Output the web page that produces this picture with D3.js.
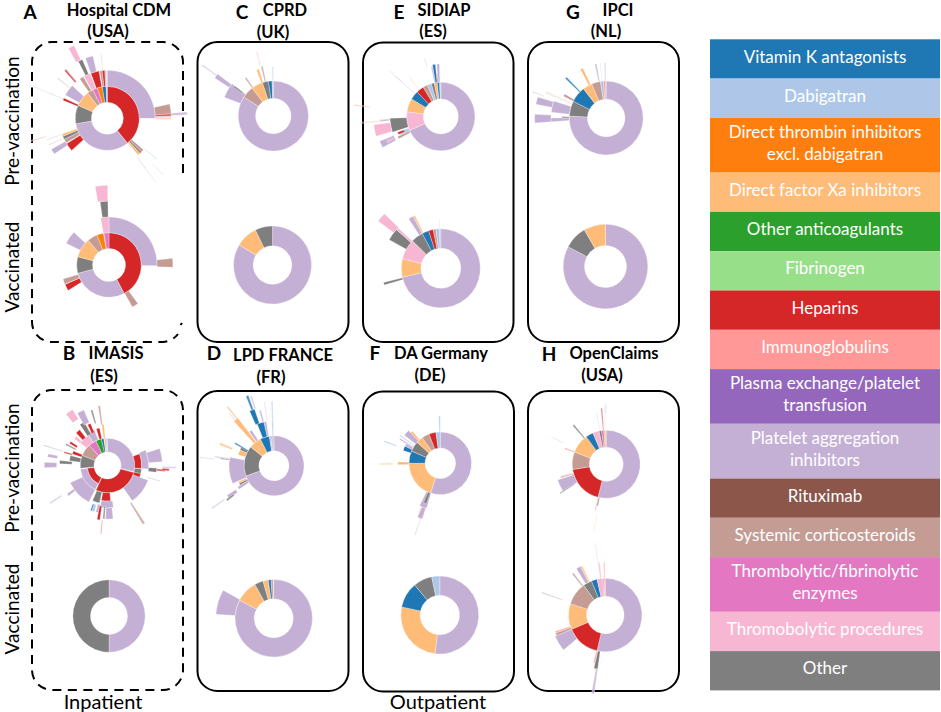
<!DOCTYPE html>
<html>
<head>
<meta charset="utf-8">
<script src="https://cdn.jsdelivr.net/npm/d3@7"></script>
<style>
  html, body { margin: 0; padding: 0; background: #fff; }
  text { font-family: Lato, "Open Sans", sans-serif; }
</style>
</head>
<body>
<svg width="941" height="712"></svg>
<script>
var categories = ["Vitamin K antagonists", "Dabigatran", "Direct thrombin inhibitors|excl. dabigatran",
  "Direct factor Xa inhibitors", "Other anticoagulants", "Fibrinogen", "Heparins", "Immunoglobulins",
  "Plasma exchange/platelet|transfusion", "Platelet aggregation|inhibitors", "Rituximab",
  "Systemic corticosteroids", "Thrombolytic/fibrinolytic|enzymes", "Thromobolytic procedures", "Other"];
var codes = ["V", "D", "T", "X", "A", "F", "H", "I", "P", "L", "R", "S", "E", "O", "G"];
var colors = ["#1f77b4", "#aec7e8", "#ff7f0e", "#ffbb78", "#2ca02c", "#98df8a", "#d62728", "#ff9896",
  "#9467bd", "#c5b0d5", "#8c564b", "#c49c94", "#e377c2", "#f7b6d2", "#7f7f7f"];

// rows: treatment, start deg, end deg (clockwise from 12 o'clock), ring, ring span
var hospitalPre = [["H",0,141,0],["L",141,260,0],["G",260,294,0],["X",294,322,0],["S",322,333,0],["E",333,342,0],["T",342,351,0],["V",351,358,0],["D",358,360,0],
  ["L",0,90,1],["S",131,134.5,1],["G",134.5,137,1],["X",137,140,1],["H",228,238,1],["S",239,244,1],["G",244,248,1],["X",248,251,1],["L",299,313,1],["H",292,295,1],["S",325,330,1],["O",331,339,1],["H",340,350,1],["S",351,354,1],["H",354,357,1],["L",357,359,1],
  ["S",77,86,2],["H",86,88,2],["L",88,89.5,2],["X",89.5,91,2],["L",236,241,2],["L",250,251,2],["I",245,246,2],["L",293,294,2],["S",308.5,309.5,2],["H",318,320,2],["L",319.5,320.5,2],["G",333,337,2],["L",340,347,2],["L",354,355,2],["D",129,130,2],["L",142,143,2],
  ["L",85.5,87.5,3],["O",331,335.5,3],["L",135,135.7,3],["L",142.5,143.2,3],["L",293,293.8,3],["I",253,254,3]];
var hospitalVac = [["H",0,152,0],["L",152,255,0],["G",255,285,0],["X",285,320,0],["S",320,338,0],["T",338,350,0],["E",351,360,0],
  ["L",0,91,1],["S",143,151,1],["H",238,246,1],["S",246.5,253,1],["L",297,313,1],["O",350,360,1],
  ["S",84,92,2],["G",352,359,2],["O",350,359,3]];

var imasisPre = [["L",0,103,0],["H",105,205,0],["H",207,262,0,.5],["L",207,262,0.5,.5],["G",264,292,0],["S",292,318,0],["E",318,335,0],["A",335,347,0],["V",347,352,0],["X",353,357,0],["D",357,360,0],
  ["H",70,95,1,.5],["L",68,95,1.5,.5],["G",96,104,1,.5],["H",104,112,1,.5],["L",110,145,1,1.15],["H",175,190,1,.6],["L",172,190,1.6,.5],["G",192,203,1,.8],["L",207,245,1,1],["G",277,285,1,.8],["H",288,293,1,.7],["O",310,328,1,.6],["L",328,340,1,.8],["H",343,348,1,.8],["X",352,355,1,1],
  ["L",72,86,2,1],["G",93,98,2,.6],["H",94,96,2.6,.6],["G",106,107,2,1],["L",174,182,2.1,.8],["L",191,194,1.9,.6],["D",196,199,2,.5],["V",199,201,2,.5],["H",188,191,2,1],["G",183,185,2,.9],["L",232,235,2,.6],["G",272,276,1.6,.9],["H",286,288,1.7,.6],["G",296,298,1.6,.8],["H",300,303,1.6,.6],["O",309,313,1.6,.5],["H",316,322,1.6,.7],["G",326,332,1.6,1],["H",334,338,1.6,.7],["L",330,337,2.4,1],
  ["L",91,92.5,3,1],["H",93,95,3,.5],["H",185,186,3,1],["S",147,149,2.2,1.8],["L",236,237.5,3,1],["L",268,273,2.7,.9],["L",278,281,2.7,.7],["G",287,288,2.4,1.5],["O",321,328,3,.8],["G",343,345,2.2,1],["S",351,353,2,1.4]];
var imasisVac = [["L",0,180,0],["G",180,360,0]];

var cprdPre = [["L",0,303,0],["S",303,323,0],["X",323,342,0],["G",342,352,0],["V",352,358,0],["L",358,360,0],
  ["L",291,308,1],["G",306,308,1.2,.6],["S",323,325,1,.7],["X",340,343,1,.8],["S",346,348,1,.9],["D",358.5,360,1,.8],
  ["L",303,307,2],["L",305,306.2,3],["I",345,346,2,.8]];
var cprdVac = [["L",0,301,0],["X",301,334,0],["G",334,360,0]];

var sidiapPre = [["L",0,246,0],["O",246,278,0],["X",278,301,0],["V",301,316,0],["H",316,329,0],["S",329,337,0],["D",337,344,0],["G",344,349,0],["X",349,354,0],["V",354,358,0],["D",358,360,0],
  ["D",245,250,1,.6],["S",242,245,1,.8],["H",247,250,1.3,.4],["G",252,268,1],["L",311,312,1,1.6],["V",311.5,312,2.1,1],["L",349,351,1,1],["V",351,354,1,1.1],["H",354,355.5,1,.5],["L",355.5,358.5,1,1.1],["X",321,322,1,1],
  ["O",253,263,2],["L",242,248,2,.9],["O",244,246,2.1,.4],["G",265.5,267,2,.6],["L",344,345,2,.6],["I",265,266,2.4,1.4],["I",277,278,3.2,1]];
var sidiapVac = [["L",0,257,0],["X",257,284,0],["O",284,314,0],["G",314,332,0],["V",332,342,0],["H",342,349,0],["S",349,353,0],["D",353,358,0],["L",358,360,0],
  ["G",253.5,256,1],["G",299,311,1],["O",311,313.5,1],["L",327,332,1],["X",332,334,1],["D",358,359,1,.5],
  ["O",307,314,2]];

var ipciPre = [["L",0,273,0],["G",273,297,0],["V",297,322,0],["X",322,337,0],["S",337,351,0],["D",351,356,0],["I",356,359,0],
  ["L",276,288,1],["L",266,270,1],["G",270,272,1,.4],["V",314,316,1,1.1],["D",292,293,1,1.6],["X",293,294,1,1.6],["S",297,300,1,.6],["X",332,335,1,1],["L",348,350,1,1],["D",353.5,354.5,1,1],["L",358,359.5,1,1],
  ["L",281,287,2,.9],["L",266,273,2,.9],["L",289,290,2.6,.7]];
var ipciVac = [["L",0,298,0],["G",298,330,0],["X",330,360,0]];

var lpdPre = [["L",0,250,0],["G",250,309,0],["X",309,333,0],["V",333,351,0],["L",351,354,0],["D",354,358,0],["S",358,360,0],
  ["L",247,281,1],["X",243,246,1,.6],["G",240,243,1,.6],["L",236,240,1,.8],["G",295,300,1,.5],["X",287,295,1,.5],["V",299,301,1,1],["X",318,323,1,2],["L",324,328,1,.8],["V",338,347,1],["L",347,350,1,1],["D",357,359,1,1],
  ["L",278,279.5,2,1],["G",277,278.5,2,.6],["V",336,341,2],["L",345,347,2,.8],["L",234,238,2,.7],["G",233,235,2.3,.6],["D",293,294,2,.9],["X",321,322.5,3,1],["V",338,340,3],["L",341,342.5,3,.9],["L",351,352,2,1.3],["D",357.5,359,2,1.3],["X",291,293,2,.9],["L",235,236.3,3,1],["L",319,320,3,.6],["L",276,277,3,1]];
var lpdVac = [["L",0,298,0],["X",298,331,0],["G",331,344,0],["X",344,352,0],["V",352,356,0],["S",356,359,0],["L",274,299,1]];

var daPre = [["L",0,198,0],["X",198,270,0],["V",270,293,0],["G",293,312,0],["X",312,325,0],["S",325,339,0],["H",339,352,0],["D",352,360,0],
  ["L",197,206,1],["G",199,203,1,.7],["X",268,272,1,.7],["V",289,296,1,.5],["L",296,300,1,.5],["L",308,316,1,.9],["X",316,319,1,.7],["D",358,360,1],["V",304,305,1,1.1],["L",300,302,1,1],
  ["L",198,203,2,.7],["X",268.5,270,2,.8],["L",199,200,2.7,1.1],["V",291,292,2,.8],["I",203,204,2,.4]];
var daVac = [["L",0,187,0],["X",187,282,0],["V",282,320,0],["G",320,348,0],["D",348,360,0]];

var claimsPre = [["L",0,194,0],["H",194,261,0],["S",261,291,0],["X",291,324,0],["V",324,337,0],["O",337,348,0],["G",348,352,0],["E",352,356,0],["X",356,359,0],
  ["L",238,252,1],["S",253,255,1,.8],["O",255,256,1,.8],["I",290,292,1,.6],["G",191,193,1,.5],["H",193,194,1,.8],["G",319,321,1,1],["H",354.5,356,1,1.3],["D",358,359,1,1.4],["L",349,350,1,1],
  ["X",190,190.8,2,1],["L",359,360,2,.6],["G",237,238.5,1.2,1],["I",296,297,1.8,.8]];
var claimsVac = [["L",0,193,0],["H",193,247,0],["X",247,288,0],["S",288,324,0],["G",324,338,0],["V",338,347,0],["O",347,356,0],["E",356,358,0],["I",358,360,0],
  ["L",230,247,1],["S",247,250,1,.9],["I",250,252,1,.9],["G",188,192,1],["I",192,194,1,.7],["L",328,333,1],["X",333,335,1],["S",321,323,1,.9],["O",352,354,1,.9],["I",358,359.5,1,.9],
  ["L",188,190,2,1.4],["O",351.5,352.5,1.8,1.2],["G",289,290,1.5,1.2]];

// panel label, second line, and where its pieces sit
var panels = [
  {letter: "A", lx: 30, ly: 12, name: "Hospital CDM", nx: 119, ny: 10.5, sub: "(USA)", sx: 108, sy: 31},
  {letter: "B", lx: 69, ly: 353, name: "IMASIS", nx: 116, ny: 353, sub: "(ES)", sx: 104, sy: 376},
  {letter: "C", lx: 242, ly: 12, name: "CPRD", nx: 285, ny: 10.5, sub: "(UK)", sx: 273, sy: 32},
  {letter: "D", lx: 214, ly: 353, name: "LPD FRANCE", nx: 283, ny: 355, sub: "(FR)", sx: 271, sy: 377},
  {letter: "E", lx: 399, ly: 12, name: "SIDIAP", nx: 444, ny: 10.5, sub: "(ES)", sx: 433, sy: 31},
  {letter: "F", lx: 375, ly: 353, name: "DA Germany", nx: 441, ny: 353, sub: "(DE)", sx: 430, sy: 375},
  {letter: "G", lx: 573, ly: 12, name: "IPCI", nx: 618, ny: 10.5, sub: "(NL)", sx: 606, sy: 31},
  {letter: "H", lx: 549, ly: 354, name: "OpenClaims", nx: 614, ny: 353, sub: "(USA)", sx: 602, sy: 375}
];

var suns = [
  {rows: hospitalPre, cx: 107.3, cy: 118.3, r0: 16, w: 16},
  {rows: hospitalVac, cx: 109, cy: 265, r0: 16.5, w: 15.8},
  {rows: imasisPre, cx: 107.5, cy: 465.5, r0: 13.5, w: 13.8},
  {rows: imasisVac, cx: 109, cy: 616, r0: 18.5, w: 17.7},
  {rows: cprdPre, cx: 273.3, cy: 116, r0: 17.7, w: 17.4},
  {rows: cprdVac, cx: 272.5, cy: 265, r0: 19.3, w: 19.7},
  {rows: sidiapPre, cx: 440.8, cy: 116.5, r0: 17.5, w: 16.7},
  {rows: sidiapVac, cx: 440.8, cy: 268.3, r0: 20, w: 19.5},
  {rows: ipciPre, cx: 606.2, cy: 118, r0: 18.8, w: 18.2},
  {rows: ipciVac, cx: 605.5, cy: 266.5, r0: 21, w: 21.3},
  {rows: lpdPre, cx: 274, cy: 465.8, r0: 15, w: 15},
  {rows: lpdVac, cx: 273.7, cy: 618.3, r0: 19.5, w: 19.2},
  {rows: daPre, cx: 440.3, cy: 463.3, r0: 15.3, w: 16},
  {rows: daVac, cx: 439.8, cy: 615, r0: 19.7, w: 19.3},
  {rows: claimsPre, cx: 606.2, cy: 464.2, r0: 17, w: 17},
  {rows: claimsVac, cx: 605.3, cy: 615, r0: 18.8, w: 17.9}
];

var solidBoxes = [[197.5, 42, 151, 300], [363, 42.5, 150.5, 299.5], [528, 42, 151, 300],
  [197.5, 391, 151, 300], [363, 391.5, 151, 300], [528, 391, 151, 300]];

var svg = d3.select("svg");
var color = d3.scaleOrdinal(codes, colors);
var angle = d3.scaleLinear().domain([0, 360]).range([0, 2 * Math.PI]);
// the very thin slivers fade out in the source picture
var fade = d3.scaleLinear().domain([0.7, 2.5]).range([0.3, 1]).clamp(true);

// boxes
svg.selectAll("rect.box")
  .data(solidBoxes)
  .enter().append("rect")
    .attr("class", "box")
    .attr("x", function(d) { return d[0]; })
    .attr("y", function(d) { return d[1]; })
    .attr("width", function(d) { return d[2]; })
    .attr("height", function(d) { return d[3]; })
    .attr("rx", 20)
    .attr("fill", "none")
    .attr("stroke", "#000")
    .attr("stroke-width", 2);

// dashed inpatient boxes, the top one is open down the right side
var dashed = [
  "M183,173 V62 A20,20 0 0 0 163,42 H52 A20,20 0 0 0 32,62 V322 A20,20 0 0 0 52,342 H163 A20,20 0 0 0 178,334",
  "M180.5,325 L182,323",
  "M183,410 A20,20 0 0 0 163,390 H52 A20,20 0 0 0 32,410 V670 A20,20 0 0 0 52,690 H163 A20,20 0 0 0 183,670 Z"
];
svg.selectAll("path.dash")
  .data(dashed)
  .enter().append("path")
    .attr("class", "dash")
    .attr("d", function(d) { return d; })
    .attr("fill", "none")
    .attr("stroke", "#000")
    .attr("stroke-width", 2)
    .attr("stroke-dasharray", "9,6.5");

// sunbursts
suns.forEach(function(s) {
  var arc = d3.arc()
    .startAngle(function(d) { return angle(d[1]); })
    .endAngle(function(d) { return angle(d[2]); })
    .innerRadius(function(d) { return s.r0 + d[3] * s.w; })
    .outerRadius(function(d) { return s.r0 + (d[3] + (d[4] === undefined ? 1 : d[4])) * s.w; });

  svg.append("g")
    .attr("transform", "translate(" + s.cx + "," + s.cy + ")")
    .selectAll("path")
    .data(s.rows)
    .enter().append("path")
      .attr("d", arc)
      .attr("fill", function(d) { return color(d[0]); })
      .attr("fill-opacity", function(d) { return fade(d[2] - d[1]); })
      .attr("stroke", "#fff")
      .attr("stroke-width", 0.3);
});

// panel titles
panels.forEach(function(p) {
  svg.append("text").attr("x", p.lx).attr("y", p.ly).attr("dy", "0.36em")
    .attr("text-anchor", "middle").attr("font-size", 19).attr("font-weight", 700).text(p.letter);
  svg.append("text").attr("x", p.nx).attr("y", p.ny).attr("dy", "0.36em")
    .attr("text-anchor", "middle").attr("font-size", 16.5).attr("font-weight", 700).text(p.name);
  svg.append("text").attr("x", p.sx).attr("y", p.sy).attr("dy", "0.36em")
    .attr("text-anchor", "middle").attr("font-size", 16.5).attr("font-weight", 700).text(p.sub);
});

// side and bottom labels
var sideLabels = [["Pre-vaccination", 121], ["Vaccinated", 267], ["Pre-vaccination", 468], ["Vaccinated", 609]];
sideLabels.forEach(function(d) {
  svg.append("text")
    .attr("transform", "translate(12," + d[1] + ") rotate(-90)")
    .attr("dy", "0.36em")
    .attr("text-anchor", "middle")
    .attr("font-size", 19)
    .text(d[0]);
});
svg.append("text").attr("x", 103).attr("y", 702).attr("dy", "0.36em").attr("text-anchor", "middle").attr("font-size", 20).text("Inpatient");
svg.append("text").attr("x", 438).attr("y", 702).attr("dy", "0.36em").attr("text-anchor", "middle").attr("font-size", 20).text("Outpatient");

// legend
var legendY = 39.3;
categories.forEach(function(c, i) {
  var lines = c.split("|");
  var h = lines.length > 1 ? 54.7 : 39.3;
  svg.append("rect")
    .attr("x", 710).attr("y", legendY)
    .attr("width", 230).attr("height", h)
    .attr("fill", color(codes[i]));
  lines.forEach(function(t, j) {
    svg.append("text")
      .attr("x", 825)
      .attr("y", legendY + h / 2 - 2 + (j - (lines.length - 1) / 2) * 22)
      .attr("dy", "0.33em")
      .attr("text-anchor", "middle")
      .attr("font-size", 17)
      .attr("fill", "#fff")
      .text(t);
  });
  legendY += h;
});
</script>
</body>
</html>
